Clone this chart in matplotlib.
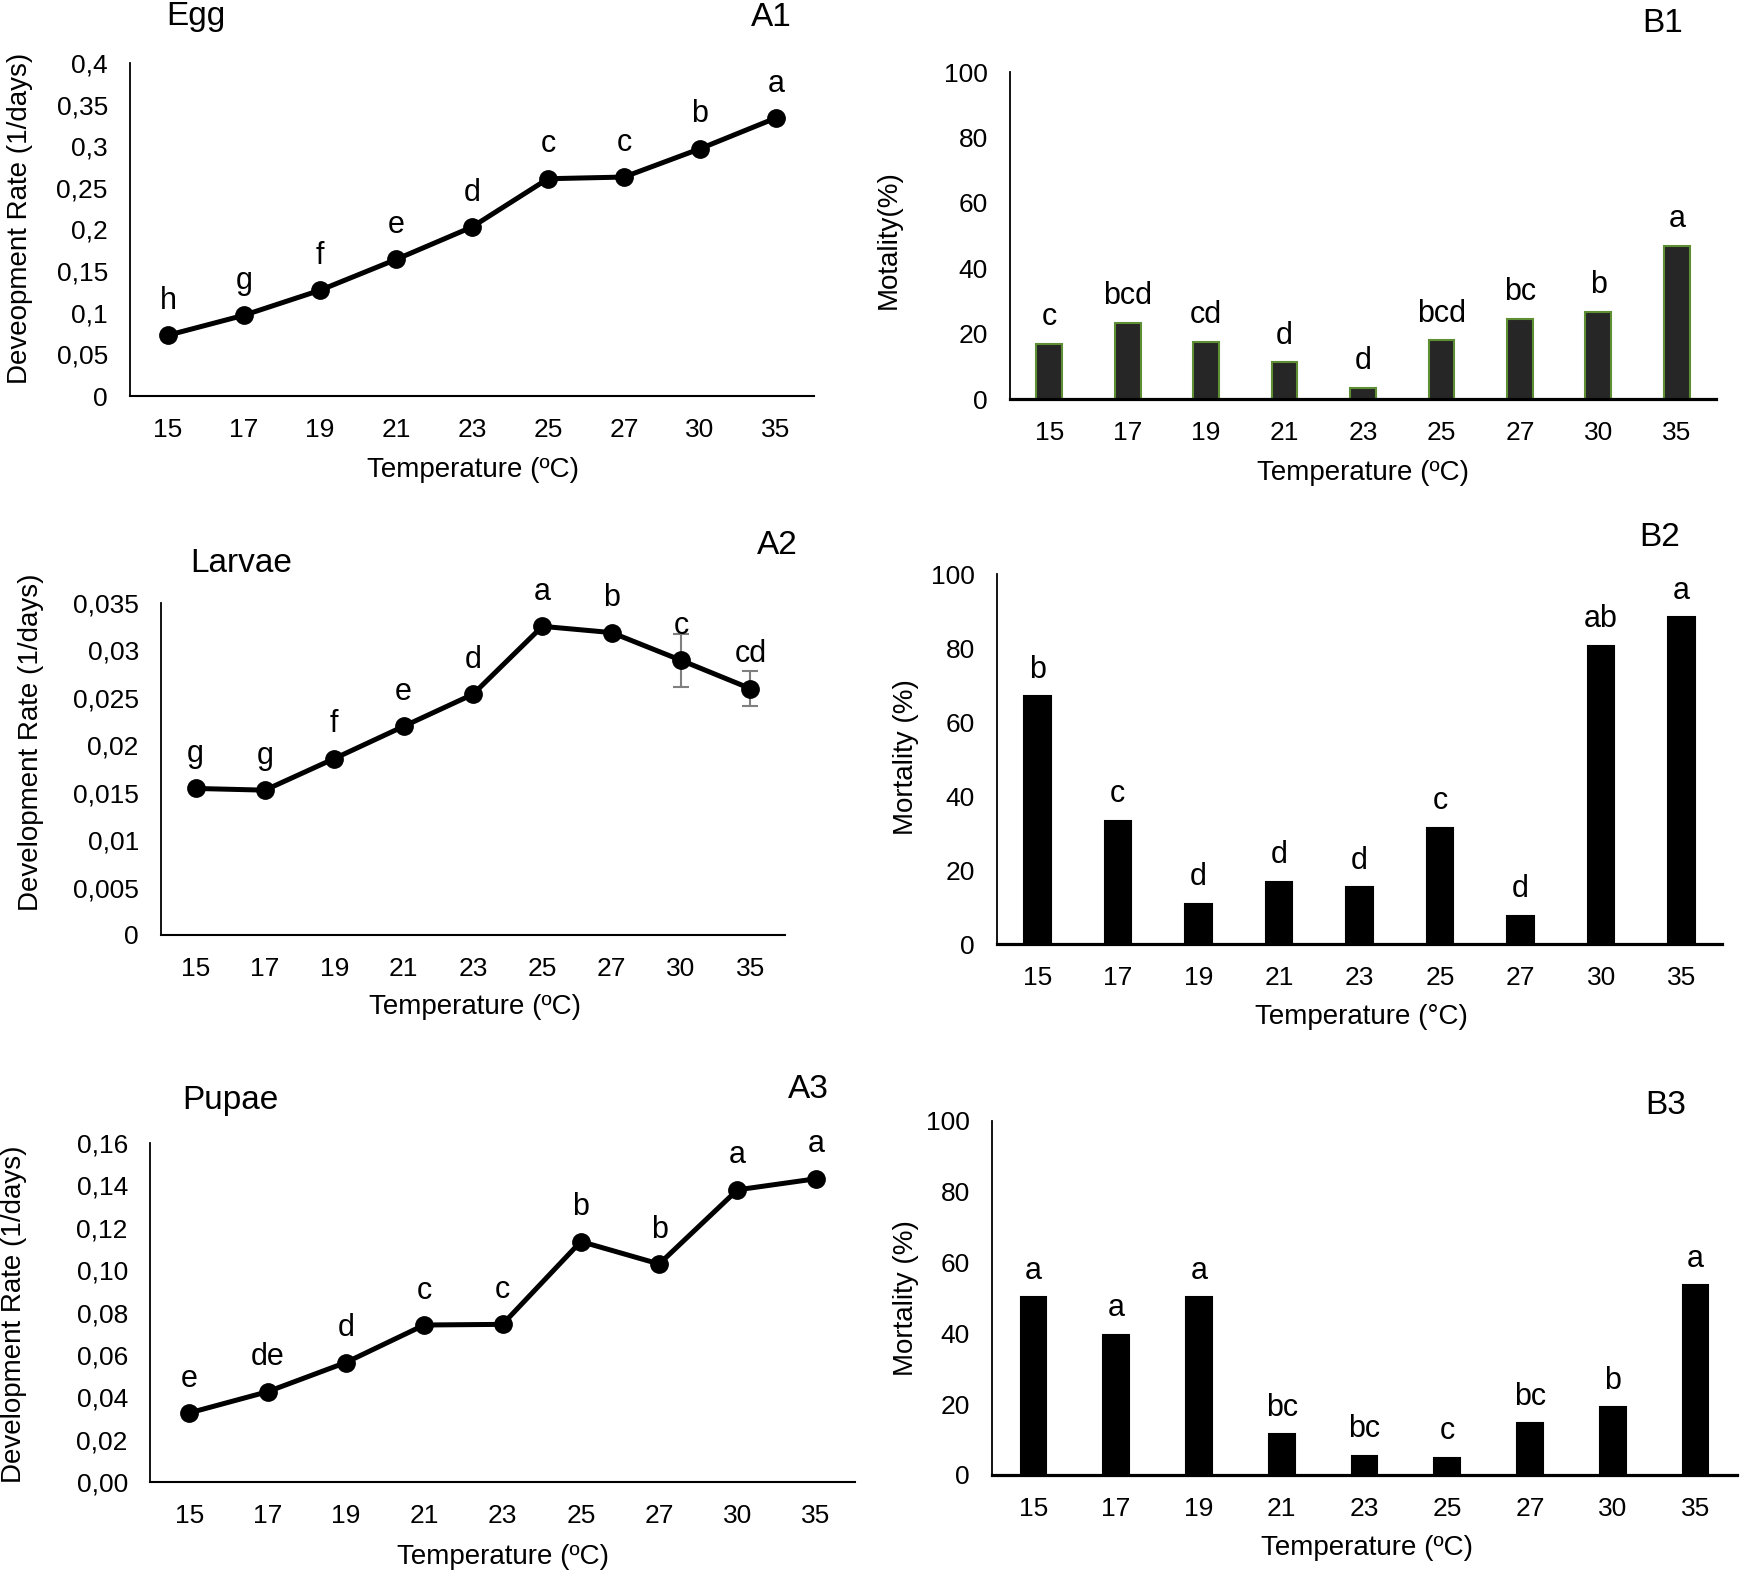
import numpy as np
import matplotlib
matplotlib.use("Agg")
import matplotlib.pyplot as plt

plt.rcParams['font.family'] = ['Liberation Sans', 'DejaVu Sans']

# data
temps = ['15', '17', '19', '21', '23', '25', '27', '30', '35']

egg_rate = [0.073, 0.097, 0.127, 0.164, 0.203, 0.261, 0.263, 0.297, 0.334]
egg_letters = ['h', 'g', 'f', 'e', 'd', 'c', 'c', 'b', 'a']
egg_ticks = [0, 0.05, 0.1, 0.15, 0.2, 0.25, 0.3, 0.35, 0.4]
egg_ticklabels = ['0', '0,05', '0,1', '0,15', '0,2', '0,25', '0,3', '0,35', '0,4']

larvae_rate = [0.01545, 0.01527, 0.0186, 0.0220, 0.02538, 0.03254, 0.03188, 0.02896, 0.02598]
larvae_err = [0.0002, 0.0002, 0.0002, 0.0002, 0.0002, 0.0002, 0.0002, 0.0028, 0.0018]
larvae_letters = ['g', 'g', 'f', 'e', 'd', 'a', 'b', 'c', 'cd']
larvae_ticks = [0, 0.005, 0.01, 0.015, 0.02, 0.025, 0.03, 0.035]
larvae_ticklabels = ['0', '0,005', '0,01', '0,015', '0,02', '0,025', '0,03', '0,035']

pupae_rate = [0.0326, 0.0426, 0.0564, 0.0741, 0.0744, 0.1135, 0.1029, 0.1379, 0.1431]
pupae_letters = ['e', 'de', 'd', 'c', 'c', 'b', 'b', 'a', 'a']
pupae_ticks = [0, 0.02, 0.04, 0.06, 0.08, 0.10, 0.12, 0.14, 0.16]
pupae_ticklabels = ['0,00', '0,02', '0,04', '0,06', '0,08', '0,10', '0,12', '0,14', '0,16']

egg_mort = [16.8, 23.3, 17.5, 11.2, 3.3, 17.9, 24.6, 26.6, 46.8]
egg_mort_letters = ['c', 'bcd', 'cd', 'd', 'd', 'bcd', 'bc', 'b', 'a']

larvae_mort = [66.9, 33.3, 10.9, 16.7, 15.3, 31.3, 7.7, 80.6, 88.3]
larvae_mort_letters = ['b', 'c', 'd', 'd', 'd', 'c', 'd', 'ab', 'a']

pupae_mort = [50.2, 39.5, 50.2, 11.5, 5.5, 4.9, 14.6, 19.1, 53.6]
pupae_mort_letters = ['a', 'a', 'a', 'bc', 'bc', 'c', 'bc', 'b', 'a']

mort_ticks = [0, 20, 40, 60, 80, 100]

W, H = 1750, 1579
fig = plt.figure(figsize=(W / 100, H / 100), dpi=100)
FS_TICK = 19     # tick labels
FS_LAB = 20      # axis titles
FS_LET = 22      # significance letters
FS_TTL = 24      # panel names


def add_axes(left, right, top, bottom):
    return fig.add_axes([left / W, 1 - bottom / H, (right - left) / W, (bottom - top) / H])


def ftext(x, y, s, **kw):
    kw.setdefault('ha', 'center')
    kw.setdefault('va', 'center')
    kw.setdefault('fontsize', FS_LAB)
    fig.text(x / W, 1 - y / H, s, **kw)


def style(ax, bottom_lw=1.5):
    for s in ['top', 'right']:
        ax.spines[s].set_visible(False)
    ax.spines['left'].set_linewidth(1.3)
    ax.spines['bottom'].set_linewidth(bottom_lw)
    ax.tick_params(length=0, labelsize=FS_TICK, pad=16)
    ax.set_xlim(-0.5, len(temps) - 0.5)
    ax.set_xticks(range(len(temps)))
    ax.set_xticklabels(temps)


def line_panel(ax, vals, letters, ticks, ticklabels, err=None):
    x = np.arange(len(vals))
    if err is not None:
        ax.errorbar(x, vals, yerr=err, fmt='none', ecolor='#7f7f7f',
                    elinewidth=1.5, capsize=6, capthick=1.5, zorder=2)
    ax.plot(x, vals, '-o', color='black', lw=3.6, ms=12.5, zorder=3)
    ax.set_ylim(ticks[0], ticks[-1])
    ax.set_yticks(ticks)
    ax.set_yticklabels(ticklabels)
    for xi, v, lab in zip(x, vals, letters):
        ax.annotate(lab, (xi, v), xytext=(0, 19), textcoords='offset points',
                    ha='center', va='baseline', fontsize=FS_LET)
    style(ax)


def bar_panel(ax, vals, letters, face='black', edge='black', width=0.33):
    x = np.arange(len(vals))
    ax.bar(x, vals, width=width, color=face, edgecolor=edge, linewidth=1.5, zorder=2)
    ax.set_ylim(0, 100)
    ax.set_yticks(mort_ticks)
    for xi, v, lab in zip(x, vals, letters):
        ax.annotate(lab, (xi, v), xytext=(0, 13.5), textcoords='offset points',
                    ha='center', va='baseline', fontsize=FS_LET)
    style(ax, bottom_lw=2.3)


# A1 egg
ax = add_axes(130, 814, 63, 396)
line_panel(ax, egg_rate, egg_letters, egg_ticks, egg_ticklabels)
ftext(196, 17, 'Egg', fontsize=FS_TTL)
ftext(771, 17, 'A1', fontsize=FS_TTL)
ftext(20, 218, 'Deveopment Rate (1/days)', rotation=90)
ftext(473, 470, 'Temperature (ºC)')

# B1 egg mortality
ax = add_axes(1010, 1716, 72, 399)
bar_panel(ax, egg_mort, egg_mort_letters, face='#262626', edge='#5e8f34')
ftext(1663, 23, 'B1', fontsize=FS_TTL)
ftext(889, 240, 'Motality(%)', rotation=90)
ftext(1363, 473, 'Temperature (ºC)')

# A2 larvae
ax = add_axes(161, 785, 603, 935)
line_panel(ax, larvae_rate, larvae_letters, larvae_ticks, larvae_ticklabels, err=larvae_err)
ftext(241, 563, 'Larvae', fontsize=FS_TTL)
ftext(777, 545, 'A2', fontsize=FS_TTL)
ftext(31, 742, 'Development Rate (1/days)', rotation=90)
ftext(475, 1007, 'Temperature (ºC)')

# B2 larvae mortality
ax = add_axes(997, 1722, 574, 944)
bar_panel(ax, larvae_mort, larvae_mort_letters)
ftext(1660, 537, 'B2', fontsize=FS_TTL)
ftext(906, 757, 'Mortality (%)', rotation=90)
ftext(1361, 1017, 'Temperature (°C)')

# A3 pupae
ax = add_axes(150, 855, 1143, 1482)
line_panel(ax, pupae_rate, pupae_letters, pupae_ticks, pupae_ticklabels)
ftext(230, 1101, 'Pupae', fontsize=FS_TTL)
ftext(808, 1090, 'A3', fontsize=FS_TTL)
ftext(14, 1314, 'Development Rate (1/days)', rotation=90)
ftext(503, 1557, 'Temperature (ºC)')

# B3 pupae mortality
ax = add_axes(992, 1737, 1121, 1475)
bar_panel(ax, pupae_mort, pupae_mort_letters, width=0.31)
ftext(1666, 1105, 'B3', fontsize=FS_TTL)
ftext(906, 1298, 'Mortality (%)', rotation=90)
ftext(1367, 1548, 'Temperature (ºC)')

fig.savefig('out.png', dpi=100)
